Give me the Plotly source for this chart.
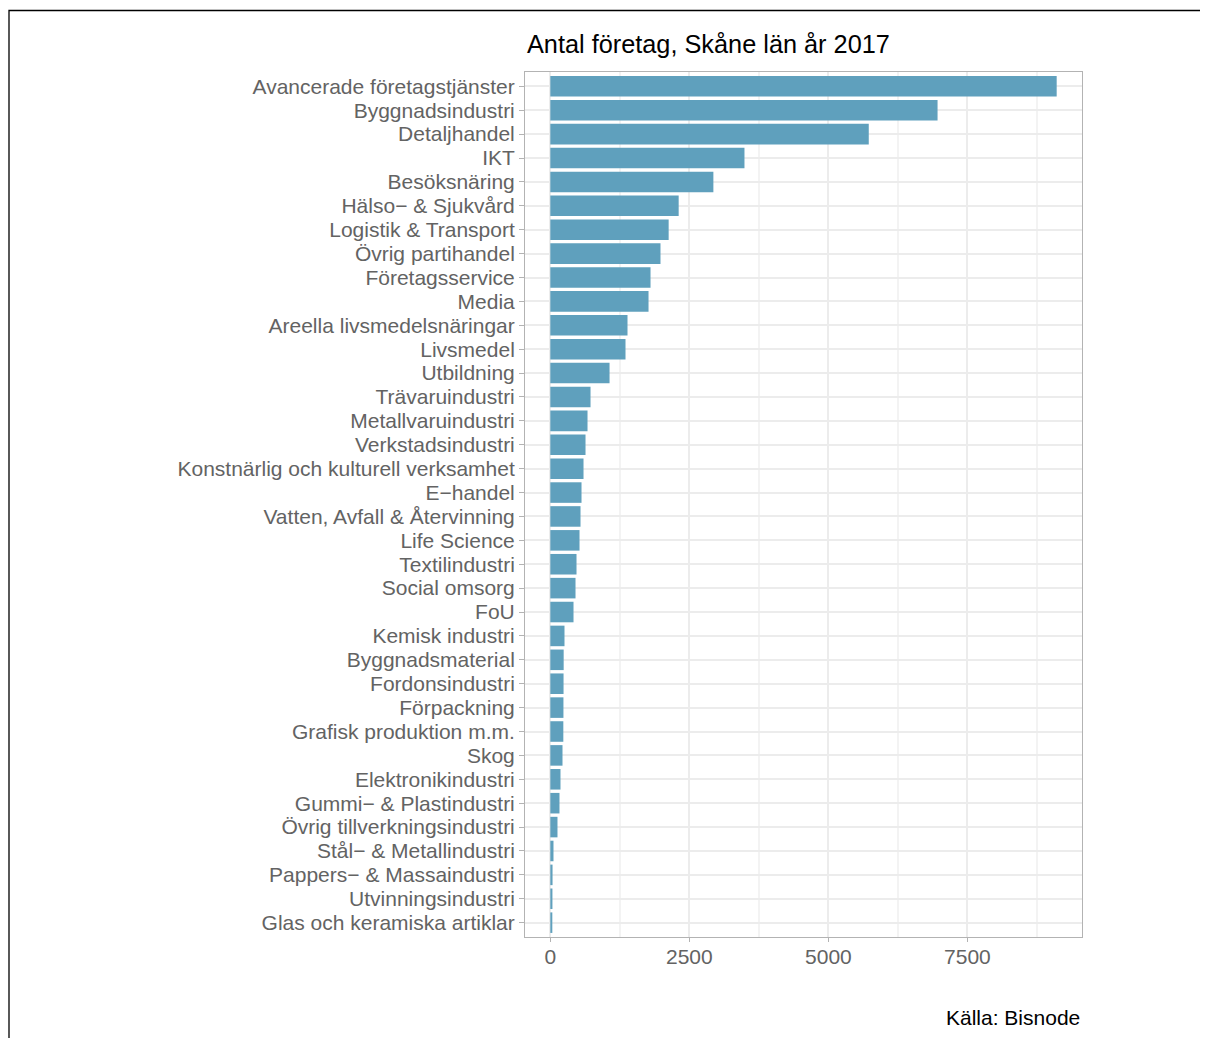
import plotly.graph_objects as go

categories = [
    "Avancerade företagstjänster", "Byggnadsindustri", "Detaljhandel", "IKT",
    "Besöksnäring", "Hälso− & Sjukvård", "Logistik & Transport", "Övrig partihandel",
    "Företagsservice", "Media", "Areella livsmedelsnäringar", "Livsmedel",
    "Utbildning", "Trävaruindustri", "Metallvaruindustri", "Verkstadsindustri",
    "Konstnärlig och kulturell verksamhet", "E−handel", "Vatten, Avfall & Återvinning",
    "Life Science", "Textilindustri", "Social omsorg", "FoU", "Kemisk industri",
    "Byggnadsmaterial", "Fordonsindustri", "Förpackning", "Grafisk produktion m.m.",
    "Skog", "Elektronikindustri", "Gummi− & Plastindustri", "Övrig tillverkningsindustri",
    "Stål− & Metallindustri", "Pappers− & Massaindustri", "Utvinningsindustri",
    "Glas och keramiska artiklar",
]
antal = [
    9105, 6963, 5726, 3491,
    2932, 2308, 2128, 1981,
    1802, 1766, 1388, 1352,
    1065, 723, 669, 633,
    597, 561, 543,
    525, 471, 453, 417, 255,
    240, 238, 236, 234,
    219, 183, 165, 129,
    57, 40, 38, 36,
]
x_ticks = [0, 2500, 5000, 7500]

title_text = "Antal företag, Skåne län år 2017"
caption_text = "Källa: Bisnode"

# page has an 8px body margin; figure is placed at (8, 8)
OFF = 8
W, H = 1200, 1030
ML, MT = 525 - OFF, 72 - OFF
MR = (W + OFF) - 1082
MB = (H + OFF) - 937
pw, ph = W - ML - MR, H - MT - MB

FONT = "Liberation Sans, Arial, Helvetica, sans-serif"
BAR = "#5fa0bd"
TXT = "#636363"

xmax = max(antal)
pad = 0.05 * xmax
n = len(categories)

fig = go.Figure(go.Bar(
    x=antal, y=categories, orientation="h",
    marker=dict(color=BAR, line=dict(width=0)),
    width=0.86,
))

def px_to_paper_x(px):
    return (px - OFF - ML) / pw

def py_to_paper_y(py):
    return (H + OFF - MB - py) / ph

fig.update_layout(
    width=W, height=H,
    margin=dict(l=ML, r=MR, t=MT, b=MB, pad=0),
    paper_bgcolor="white", plot_bgcolor="white",
    showlegend=False,
    font=dict(family=FONT, size=21, color=TXT),
    xaxis=dict(
        range=[-pad, xmax + pad],
        tickmode="array",
        tickvals=x_ticks, ticktext=[str(v) for v in x_ticks],
        showgrid=True, gridcolor="#ececec", gridwidth=2,
        minor=dict(dtick=1250, tick0=0, showgrid=True, gridcolor="#f3f3f3", gridwidth=1.5),
        zeroline=False,
        showline=True, linecolor="#b3b3b3", linewidth=1, mirror=True,
        ticks="outside", ticklen=4, tickcolor="#b3b3b3", tickwidth=1,
        ticklabelstandoff=-3,
        tickfont=dict(family=FONT, size=21, color=TXT),
    ),
    yaxis=dict(
        type="category",
        categoryorder="array", categoryarray=categories,
        tickmode="array", tickvals=categories, ticktext=categories,
        range=[n - 1 + 0.6, -0.6],
        showgrid=True, gridcolor="#ececec", gridwidth=2,
        zeroline=False,
        showline=True, linecolor="#b3b3b3", linewidth=1, mirror=True,
        ticks="outside", ticklen=5, tickcolor="#b3b3b3", tickwidth=1,
        tickfont=dict(family=FONT, size=21, color=TXT),
    ),
    annotations=[
        dict(text=title_text, xref="paper", yref="paper",
             x=0, y=py_to_paper_y(60), xanchor="left", yanchor="bottom",
             showarrow=False, font=dict(family=FONT, size=25.3, color="black")),
        dict(text=caption_text, xref="paper", yref="paper",
             x=1, y=py_to_paper_y(1031), xanchor="right", yanchor="bottom",
             showarrow=False, font=dict(family=FONT, size=21, color="black")),
    ],
    shapes=[
        dict(type="rect", xref="paper", yref="paper",
             x0=px_to_paper_x(9), x1=px_to_paper_x(1240),
             y0=py_to_paper_y(1060), y1=py_to_paper_y(10.5),
             line=dict(color="black", width=1.3), fillcolor="rgba(0,0,0,0)",
             layer="above"),
    ],
)

fig.write_html("out.html")
